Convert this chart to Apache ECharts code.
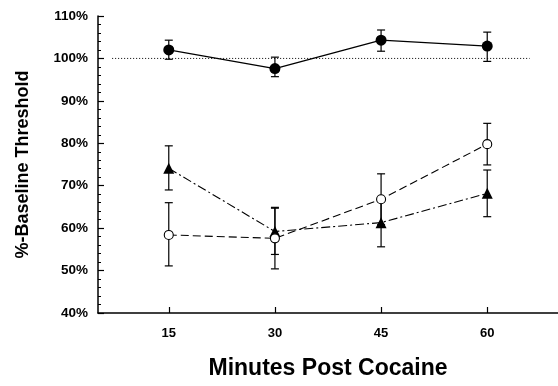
<!DOCTYPE html>
<html>
<head>
<meta charset="utf-8">
<script src="https://cdn.jsdelivr.net/npm/echarts@6/dist/echarts.min.js"></script>
<style>
html,body{margin:0;padding:0;background:#fff;}
#chart{width:558px;height:386px;}
</style>
</head>
<body>
<div id="chart"></div>
<script>
const minutes = [15, 30, 45, 60];
const xTicks = [15, 30, 45, 60];

const filledMean = [102.0, 97.6, 104.3, 102.9];
const filledLow  = [99.8, 95.7, 101.7, 99.3];
const filledHigh = [104.3, 100.3, 106.7, 106.2];

const triMean = [74.1, 59.2, 61.3, 68.2];
const triLow  = [69.0, 53.8, 55.6, 62.7];
const triHigh = [79.4, 64.7, 67.0, 73.7];

const openMean = [58.4, 57.6, 66.8, 79.8];
const openLow  = [51.1, 50.4, 60.8, 74.9];
const openHigh = [66.0, 64.9, 72.8, 84.7];

const baselineX = [7, 66];
const baselineY = [100, 100];

const FONT = 'Liberation Sans, Arial, sans-serif';

function errData(low, high) {
  return minutes.map((m, i) => [m, low[i], high[i]]);
}
function errSeries(low, high) {
  return {
    type: 'custom',
    z: 2,
    silent: true,
    data: errData(low, high),
    encode: { x: 0, y: [1, 2] },
    renderItem: function (params, api) {
      const x = api.value(0);
      const pLo = api.coord([x, api.value(1)]);
      const pHi = api.coord([x, api.value(2)]);
      const w = 4;
      const style = { stroke: '#000', lineWidth: 1.2 };
      return {
        type: 'group',
        children: [
          { type: 'line', shape: { x1: pLo[0], y1: pLo[1], x2: pHi[0], y2: pHi[1] }, style: style },
          { type: 'line', shape: { x1: pLo[0] - w, y1: pLo[1], x2: pLo[0] + w, y2: pLo[1] }, style: style },
          { type: 'line', shape: { x1: pHi[0] - w, y1: pHi[1], x2: pHi[0] + w, y2: pHi[1] }, style: style }
        ]
      };
    }
  };
}

const chart = echarts.init(document.getElementById('chart'), null, { renderer: 'canvas' });
chart.setOption({
  animation: false,
  backgroundColor: '#fff',
  grid: { left: 98, right: 0, top: 16, bottom: 73, containLabel: false },
  xAxis: {
    type: 'value',
    min: 5,
    max: 70,
    name: 'Minutes Post Cocaine',
    nameLocation: 'middle',
    nameGap: 44,
    nameTextStyle: { fontFamily: FONT, fontWeight: 'bold', fontSize: 23, color: '#000' },
    splitLine: { show: false },
    axisLine: { show: true, lineStyle: { color: '#000', width: 1.5 } },
    axisTick: { show: true, inside: true, length: 6, customValues: xTicks, lineStyle: { color: '#000', width: 1.2 } },
    axisLabel: { customValues: xTicks, margin: 14, fontFamily: FONT, fontWeight: 'bold', fontSize: 13, color: '#000' }
  },
  yAxis: {
    type: 'value',
    min: 40,
    max: 110,
    interval: 10,
    name: '%-Baseline Threshold',
    nameLocation: 'middle',
    nameGap: 66,
    nameTextStyle: { fontFamily: FONT, fontWeight: 'bold', fontSize: 18, color: '#000' },
    splitLine: { show: false },
    axisLine: { show: true, lineStyle: { color: '#000', width: 1.5 } },
    axisTick: { show: true, inside: true, length: 6, lineStyle: { color: '#000', width: 1.2 } },
    minorTick: { show: true, splitNumber: 5, length: 3, lineStyle: { color: '#000', width: 1 } },
    axisLabel: { formatter: '{value}%', margin: 10, fontFamily: FONT, fontWeight: 'bold', fontSize: 13.5, color: '#000' }
  },
  series: [
    {
      type: 'line',
      z: 1,
      silent: true,
      symbol: 'none',
      data: baselineX.map((x, i) => [x, baselineY[i]]),
      lineStyle: { color: '#000', width: 1, type: [1, 2] }
    },
    errSeries(filledLow, filledHigh),
    errSeries(triLow, triHigh),
    errSeries(openLow, openHigh),
    {
      type: 'line',
      z: 3,
      data: minutes.map((m, i) => [m, filledMean[i]]),
      symbol: 'circle',
      symbolSize: 11,
      itemStyle: { color: '#000' },
      lineStyle: { color: '#000', width: 1.3, type: 'solid' }
    },
    {
      type: 'line',
      z: 3,
      data: minutes.map((m, i) => [m, triMean[i]]),
      symbol: 'triangle',
      symbolSize: 11,
      itemStyle: { color: '#000' },
      lineStyle: { color: '#000', width: 1.1, type: [9, 3, 2, 3] }
    },
    {
      type: 'line',
      z: 4,
      data: minutes.map((m, i) => [m, openMean[i]]),
      symbol: 'circle',
      symbolSize: 9,
      itemStyle: { color: '#fff', borderColor: '#000', borderWidth: 1.1 },
      lineStyle: { color: '#000', width: 1.1, type: [8, 4] }
    }
  ]
});
</script>
</body>
</html>
